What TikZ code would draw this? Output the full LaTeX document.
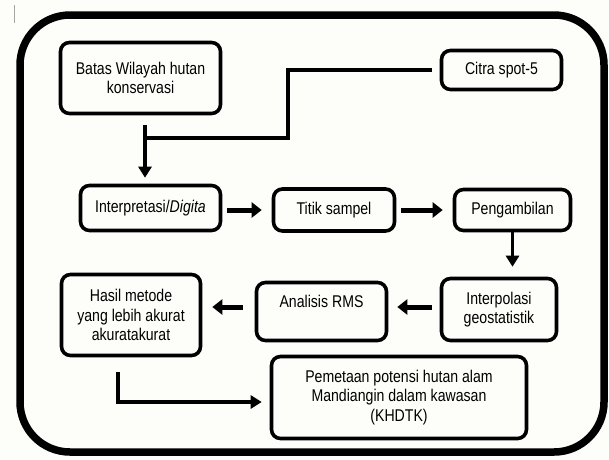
\documentclass[tikz,border=0pt]{standalone}
\usepackage{fontspec}
\setmainfont{Liberation Sans}[FakeStretch=0.83]
\usetikzlibrary{arrows.meta,positioning}
\definecolor{bg}{RGB}{253,253,249}
\tikzset{box/.style={draw,line width=3.6pt,rounded corners=9pt,align=center,inner sep=2pt},
 wire/.style={line width=3.5pt},
 arr/.style={wire,-{Triangle[length=11pt,width=13pt]}},
 fat/.style={line width=5pt,-{Triangle[length=10pt,width=15pt]},shorten <=5pt,shorten >=10pt},
 every node/.style={font=\fontsize{17}{19.5}\selectfont}}
\begin{document}
\begin{tikzpicture}[x=1pt,y=-1pt]
\fill[bg] (0,0) rectangle (609,459);
\useasboundingbox (0,0) rectangle (609,459);
\draw[gray!70,line width=1pt] (14,5)--(14,23);
\draw[line width=7.5pt,rounded corners=50pt] (20,15) rectangle (604,452);
% boxes
\node[box,minimum width=160pt,minimum height=71pt] (batas) at (140.5,78) {Batas Wilayah hutan\\konservasi};
\node[box,minimum width=120pt,minimum height=39pt] (citra) at (501.5,70) {Citra spot-5};
\node[box,minimum width=140pt,minimum height=45pt] (interp) at (150.5,208) {Interpretasi/\textit{Digita}};
\node[box,minimum width=121pt,minimum height=42pt] (titik) at (334,210) {Titik sampel};
\node[box,minimum width=116pt,minimum height=41pt] (peng) at (512.5,210) {Pengambilan};
\node[box,minimum width=115pt,minimum height=62pt] (interpol) at (499,309.5) {Interpolasi\\geostatistik};
\node[box,minimum width=130pt,minimum height=58pt] (analisis) at (321.5,311.5) {Analisis RMS\\\mbox{}};
\node[box,minimum width=139pt,minimum height=81pt] (hasil) at (131,315) {Hasil metode\\yang lebih akurat\\akuratakurat};
\node[box,minimum width=255pt,minimum height=82pt] (pemetaan) at (399,397.5) {Pemetaan potensi hutan alam\\Mandiangin dalam kawasan\\(KHDTK)};
% joins
\coordinate (j) at (145,138);
\coordinate (k) at (288,138);
\coordinate (m) at (118,402);
% connectors
\draw[arr,shorten <=10pt,shorten >=6pt] (batas.south -| j) -- (interp.north -| j);
\draw[wire,shorten <=8pt] (citra.west) -| (k) -- (j);
\draw[fat] (interp.east |- titik) -- (titik);
\draw[fat] (titik) -- (peng);
\draw[arr,shorten >=10pt] (peng.south) -- (peng.south |- interpol.north);
\draw[fat,shorten <=8pt,shorten >=9pt] ([yshift=4.5pt]analisis.east -| interpol.west) -- ([yshift=4.5pt]analisis.east);
\draw[fat,shorten <=12pt,shorten >=10pt] ([yshift=4.5pt]analisis.west) -- ([yshift=4.5pt]analisis.west -| hasil.east);
\draw[arr,shorten <=15pt,shorten >=8pt] (hasil.south -| m) -- (m) -- (pemetaan.west |- m);
\end{tikzpicture}
\end{document}
